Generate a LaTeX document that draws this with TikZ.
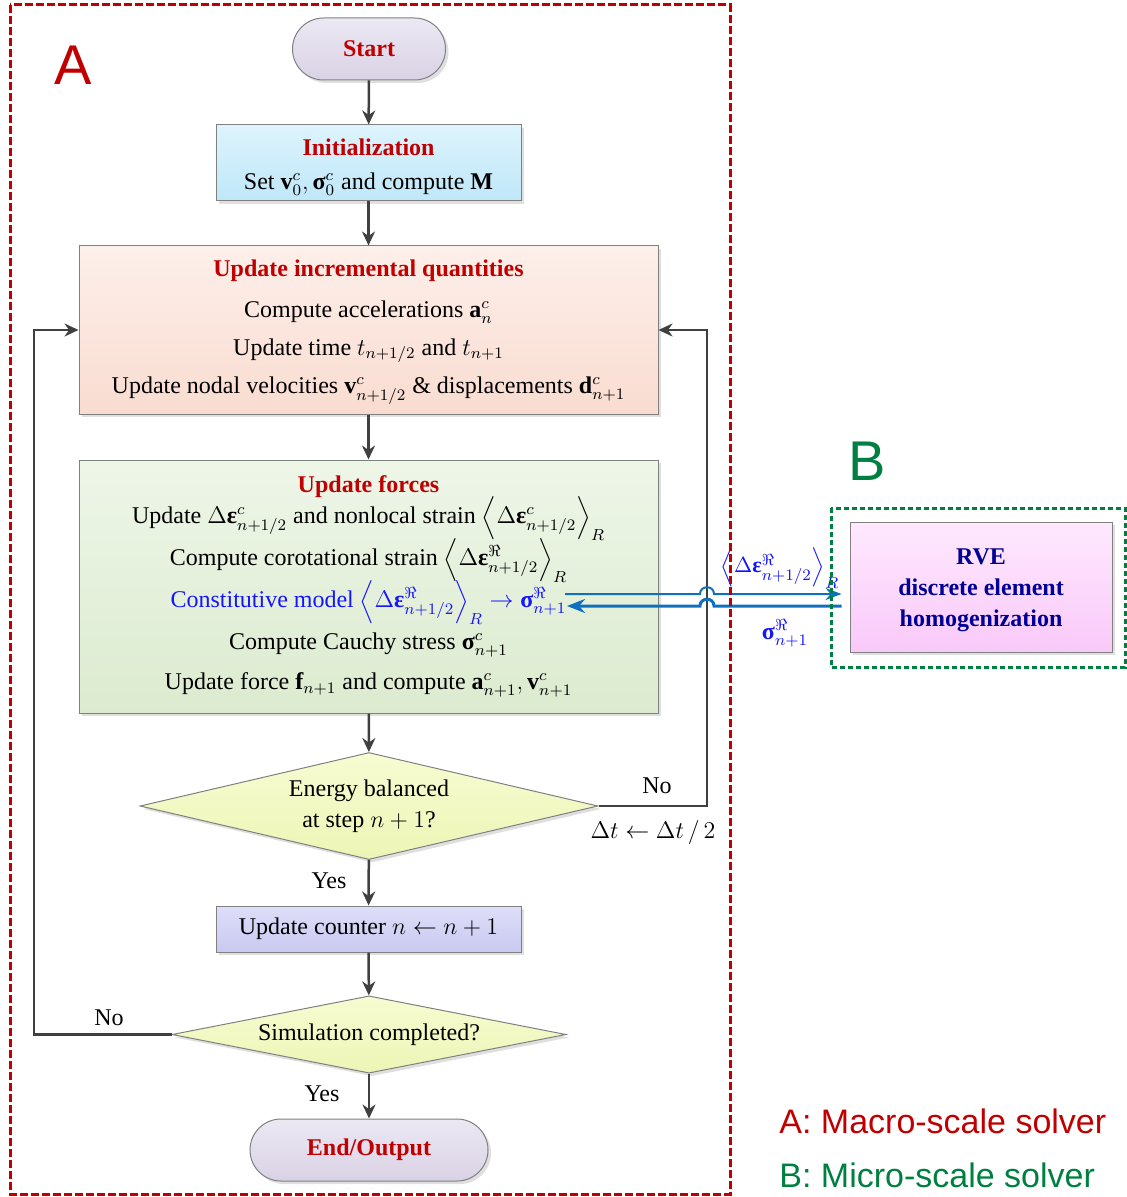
\documentclass[tikz,border=0pt]{standalone}
\usepackage{fontspec}
\setmainfont{Liberation Serif}
\newfontfamily\arialfont{Liberation Sans}
\usepackage{amsmath}
\usetikzlibrary{shapes.geometric,arrows.meta,shadows}

\definecolor{titlered}{RGB}{192,0,0}
\definecolor{framegreen}{RGB}{0,128,64}
\definecolor{linegray}{RGB}{64,64,64}
\definecolor{boxborder}{RGB}{128,128,128}
\definecolor{rveblue}{RGB}{0,0,150}
\definecolor{arrowblue}{RGB}{16,112,192}
\definecolor{textblue}{RGB}{20,20,255}

\tikzset{
  box/.style={draw=boxborder,line width=0.5pt,align=center,inner sep=2pt,
    font=\fontsize{12}{14.5}\selectfont,
    drop shadow={shadow xshift=1.5pt,shadow yshift=-1.5pt,opacity=0.25}},
  terminal/.style={box,rounded corners=15.5pt,minimum width=76.5pt,minimum height=31pt,
    top color={rgb,255:red,236;green,232;blue,243},bottom color={rgb,255:red,217;green,210;blue,229}},
  decision/.style={box,diamond,aspect=4,inner sep=0pt,
    top color={rgb,255:red,247;green,252;blue,210},bottom color={rgb,255:red,237;green,245;blue,181}},
  flow/.style={draw=linegray,line width=1.25pt,-{Stealth[length=7pt,width=6.5pt]}},
  tag/.style={inner sep=1pt,font=\fontsize{12}{14.5}\selectfont},
  bigletter/.style={inner sep=0pt,font=\arialfont\fontsize{28}{30}\selectfont},
  legendtext/.style={inner sep=0pt,anchor=west,font=\arialfont\fontsize{17}{19}\selectfont},
  dataline/.style={draw=arrowblue,line width=1pt},
  dashframe/.style={line width=1.5pt,dash pattern=on 4pt off 1.5pt}
}
\newcommand{\boxtitle}[1]{\textcolor{titlered}{\textbf{#1}}}
\newcommand{\gsig}{\mbox{\bfseries σ}}
\newcommand{\geps}{\mbox{\bfseries ε}}
\newcommand{\fixedlines}[1]{\fontsize{12}{#1}\selectfont\lineskiplimit=-30pt}

\begin{document}
\begin{tikzpicture}[x=0.5pt,y=-0.5pt,line cap=butt,line join=miter]
  \useasboundingbox (0,0) rectangle (1127,1197);
  % flow chart boxes
  \node[terminal] (start) at (369,49) {\boxtitle{Start}};
  \node[box,minimum width=152.5pt,minimum height=38pt,font=\fixedlines{17pt},
    top color={rgb,255:red,221;green,244;blue,253},bottom color={rgb,255:red,191;green,231;blue,249}]
    (init) at (368.5,163) {\rule{0pt}{12.2pt}\boxtitle{Initialization}\\
    Set $\mathbf{v}^{c}_{0},\gsig^{c}_{0}$ and compute $\mathbf{M}$};
  \node[box,minimum width=289.5pt,minimum height=84pt,font=\fixedlines{19pt},
    top color={rgb,255:red,253;green,239;blue,234},bottom color={rgb,255:red,249;green,220;blue,208}]
    (incr) at (368.5,330) {\rule{0pt}{10.3pt}\boxtitle{Update incremental quantities}\\[1.5pt]
    Compute accelerations $\mathbf{a}^{c}_{n}$\\
    Update time $t_{n+1/2}$ and $t_{n+1}$\\
    Update nodal velocities $\mathbf{v}^{c}_{n+1/2}$ \& displacements $\mathbf{d}^{c}_{n+1}$};
  \node[box,minimum width=289.5pt,minimum height=126.5pt,font=\fixedlines{21pt},
    top color={rgb,255:red,238;green,246;blue,232},bottom color={rgb,255:red,220;green,235;blue,207}]
    (forces) at (368.5,586.5) {\boxtitle{Update forces}\\[-5.5pt]
    Update $\Delta\geps^{c}_{n+1/2}$ and nonlocal strain $\left\langle\Delta\geps^{c}_{n+1/2}\right\rangle_{R}$\\
    Compute corotational strain $\left\langle\Delta\geps^{\Re}_{n+1/2}\right\rangle_{R}$\\
    \textcolor{textblue}{Constitutive model $\left\langle\Delta\geps^{\Re}_{n+1/2}\right\rangle_{R}\rightarrow\gsig^{\Re}_{n+1}$}\\
    Compute Cauchy stress $\gsig^{c}_{n+1}$\\[-1pt]
    Update force $\mathbf{f}_{n+1}$ and compute $\mathbf{a}^{c}_{n+1},\mathbf{v}^{c}_{n+1}$};
  \node[decision,minimum width=229pt,minimum height=53.5pt] (energy) at (369,806)
    {Energy balanced\\[1pt] at step $n+1$?};
  \node[box,minimum width=152.5pt,minimum height=23pt,
    top color={rgb,255:red,222;green,222;blue,249},bottom color={rgb,255:red,201;green,201;blue,241}]
    (counter) at (368.5,929) {Update counter $n\leftarrow n+1$};
  \node[decision,minimum width=197pt,minimum height=37.5pt] (done) at (369,1034.5)
    {Simulation completed?};
  \node[terminal,minimum width=119pt] (finish) at (369,1150) {\boxtitle{End/Output}};
  % micro solver box
  \node[box,minimum width=131pt,minimum height=65pt,font=\fontsize{12}{15.5}\selectfont\bfseries,text=rveblue,
    top color={rgb,255:red,255;green,233;blue,255},bottom color={rgb,255:red,249;green,201;blue,249}]
    (rve) at (981,587) {\rule{0pt}{11.4pt}RVE\\discrete element\\homogenization};
  % main flow
  \draw[flow] (start) -- (init);
  \draw[flow] (init) -- (incr);
  \draw[flow] (incr) -- (forces);
  \draw[flow] (forces) -- (energy);
  \draw[flow] (energy) -- (counter);
  \draw[flow] (counter) -- (done);
  \draw[flow] (done) -- (finish);
  % loops back
  \draw[flow] (energy.east) -- (707,806) |- (incr.east);
  \draw[flow] (done.west) -- (34,1034.5) |- (incr.west);
  \node[tag] (no1) at (657,786) {No};
  \node[tag] (halve) at (653,832) {$\Delta t\leftarrow\Delta t\,/\,2$};
  \node[tag] (yes1) at (329,881) {Yes};
  \node[tag] (no2) at (109,1018) {No};
  \node[tag] (yes2) at (322,1094) {Yes};
  % macro-micro exchange
  \coordinate (sigout) at (565,594);
  \coordinate (sigin) at (567,606);
  \draw[dataline,-{Stealth[length=8pt,width=6pt]},shorten >=4pt] (sigout) -- (700,594)
    .. controls (700,585) and (714,585) .. (714,594) -- ([yshift=-3.5pt]rve.west);
  \draw[dataline,line width=1.5pt,-{Stealth[length=9pt,width=7pt]},shorten <=4pt] ([yshift=-9.5pt]rve.west)
    -- (714,606) .. controls (714,597) and (700,597) .. (700,606) -- (sigin);
  \node[tag,text=textblue,font=\fontsize{11}{13}\selectfont] (epsR) at (780,568)
    {$\left\langle\Delta\geps^{\Re}_{n+1/2}\right\rangle_{R}$};
  \node[tag,text=textblue] (sigR) at (785,633) {$\gsig^{\Re}_{n+1}$};
  % solver frames
  \draw[dashframe,draw=titlered] (10,5) rectangle (730,1194);
  \draw[dashframe,draw=framegreen,dash pattern=on 2.5pt off 1.5pt] (831,508) rectangle (1125,667);
  \node[bigletter,text=titlered] (labA) at (73,65) {A};
  \node[bigletter,text=framegreen] (labB) at (867,461) {B};
  \node[legendtext,text=titlered] (legA) at (779,1121) {A: Macro-scale solver};
  \node[legendtext,text=framegreen] (legB) at (779,1175) {B: Micro-scale solver};
\end{tikzpicture}
\end{document}
